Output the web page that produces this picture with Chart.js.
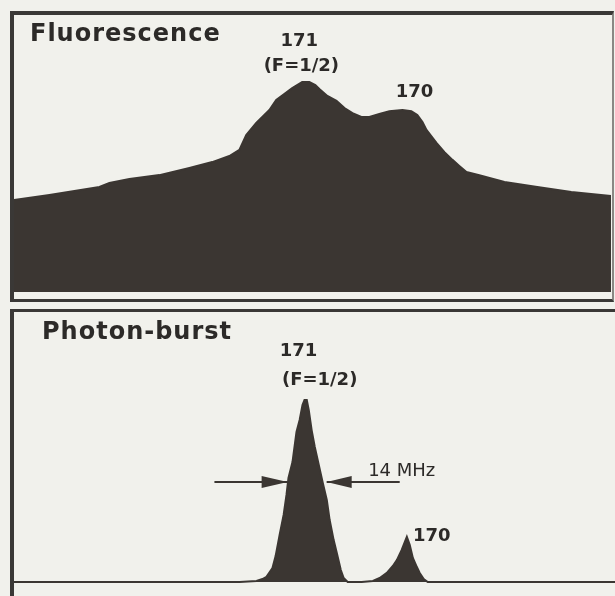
<!DOCTYPE html>
<html>
<head>
<meta charset="utf-8">
<script src="https://cdn.jsdelivr.net/npm/chart.js@4.4.1/dist/chart.umd.min.js"></script>
<style>
    html, body { margin: 0; padding: 0; background: #f1f1ec; }
    #page { position: relative; width: 615px; height: 596px; overflow: hidden; background: #f1f1ec; }
    .frame { position: absolute; box-sizing: border-box; border-color: #3a3836; border-style: solid; }
    #top-frame { left: 10px; top: 11px; width: 604px; height: 291px; border-width: 4px 2px 3px 4px; border-right-color: #8a8884; }
    #bottom-frame { left: 10px; top: 309px; width: 610px; height: 300px; border-width: 3px 0 0 4px; }
    canvas { position: absolute; }
    #fluor-chart { left: 14px; top: 15px; }
    #burst-chart { left: 14px; top: 315px; }
</style>
</head>
<body>
<div id="page">
    <div class="frame" id="top-frame"></div>
    <div class="frame" id="bottom-frame"></div>
    <canvas id="fluor-chart" width="597" height="277"></canvas>
    <canvas id="burst-chart" width="601" height="271"></canvas>
</div>
<script>
// frequency offset (MHz) from the 171 (F=1/2) line, signal in arbitrary units
const fluorFreq = [-102, -89.6, -72.1, -68.6, -61.6, -51.1, -40.6, -32.6, -26.6, -23.1, -20.7, -17.2, -12.6, -10.2,
    -7.4, -4.6, -1.1, 1.4, 3.5, 4.9, 7.7, 10.9, 13.7, 16.5, 19.6, 22.4, 25.9, 29.4, 34.0, 37.1, 39.2, 41.0, 42.4,
    45.9, 48.7, 51.5, 53.9, 56.4, 60.9, 69.7, 81.2, 93.1, 107];
const fluorSignal = [33.2, 35.0, 37.9, 39.4, 40.8, 42.2, 44.8, 46.9, 49.1, 51.3, 56.7, 61.0, 65.7, 69.3,
    71.5, 73.6, 75.8, 75.8, 74.7, 73.3, 70.8, 69.0, 66.4, 64.6, 63.2, 63.2, 64.3, 65.3, 65.7, 65.3, 63.9, 61.4, 58.5,
    53.8, 50.5, 47.7, 45.5, 43.3, 42.2, 39.7, 37.9, 36.1, 34.7];

const burstFreq = [-102, -23.1, -17.2, -15.1, -13.7, -11.6, -10.5, -9.1, -7.7, -6.7, -6.0, -4.6, -3.2, -2.1, -1.1,
    -0.4, 0.4, 1.1, 2.1, 3.2, 4.6, 6.0, 7.4, 8.4, 9.8, 10.9, 12.3, 13.3, 14.7, 19.6, 23.5, 25.9, 28.4, 30.5, 31.9,
    33.6, 34.7, 35.4, 36.4, 37.5, 38.9, 39.9, 41.3, 42.7, 108.2];
const burstSignal = [0, 0, 0.4, 1.1, 1.9, 5.2, 9.7, 17.6, 25.1, 32.6, 39.0, 44.9, 56.2, 60.7, 66.3,
    68.2, 68.2, 64.4, 56.9, 50.6, 43.8, 37.1, 30.7, 23.2, 15.7, 10.9, 4.5, 1.5, 0, 0, 0.4, 1.5, 3.4, 6.0, 8.2,
    12.0, 15.0, 16.9, 13.9, 9.0, 5.6, 3.4, 1.1, 0, 0];

// peak labels: [text, freq, signal]
const fluorLabels = [['171', -2.1, 90.6], ['(F=1/2)', -1.4, 81.6], ['170', 38.2, 72.2]];
const burstLabels = [['171', -2.5, 86.5], ['(F=1/2)', 4.9, 75.7], ['170', 44.1, 17.2]];
const widthLabel = ['14 MHz', 33.6, 41.6];
// half-width arrows: line start, arrow tip, arrow base (MHz), at one signal level
const leftArrow = [-31.9, -6.3, -15.4];
const rightArrow = [32.9, 7.35, 16.1];
const arrowLevel = 37.5;

const INK = '#3b3632';
const TEXT = '#2c2a28';

function toPoints(xs, ys) {
    return xs.map((x, i) => ({ x: x, y: ys[i] }));
}

const annotate = {
    id: 'annotate',
    afterDraw(chart) {
        const ctx = chart.ctx;
        const xs = chart.scales.x;
        const ys = chart.scales.y;
        const opts = chart.options.plugins.annotate;
        ctx.save();
        ctx.fillStyle = TEXT;
        ctx.textBaseline = 'middle';

        ctx.font = 'bold 24px "DejaVu Sans"';
        ctx.letterSpacing = '1px';
        ctx.textAlign = 'left';
        ctx.fillText(opts.title, chart.chartArea.left + opts.titleX, chart.chartArea.top + opts.titleY);

        ctx.font = 'bold 18px "DejaVu Sans"';
        ctx.letterSpacing = '0px';
        ctx.textAlign = 'center';
        opts.labels.forEach(l => {
            ctx.fillText(l[0], xs.getPixelForValue(l[1]), ys.getPixelForValue(l[2]));
        });

        if (opts.arrows) {
            const y = ys.getPixelForValue(arrowLevel);
            ctx.strokeStyle = INK;
            ctx.lineWidth = 2;
            [leftArrow, rightArrow].forEach(a => {
                const x0 = xs.getPixelForValue(a[0]);
                const tip = xs.getPixelForValue(a[1]);
                const base = xs.getPixelForValue(a[2]);
                ctx.beginPath();
                ctx.moveTo(x0, y);
                ctx.lineTo(tip, y);
                ctx.stroke();
                ctx.beginPath();
                ctx.moveTo(tip, y);
                ctx.lineTo(base, y - 6);
                ctx.lineTo(base, y + 6);
                ctx.closePath();
                ctx.fillStyle = INK;
                ctx.fill();
            });
            ctx.fillStyle = TEXT;
            ctx.font = '18px "DejaVu Sans"';
            ctx.fillText(widthLabel[0], xs.getPixelForValue(widthLabel[1]), ys.getPixelForValue(widthLabel[2]));
        }
        ctx.restore();
    }
};

function makeChart(canvasId, xs, ys, xMax, title, titleX, titleY, labels, arrows, bottomPad) {
    return new Chart(document.getElementById(canvasId), {
        type: 'line',
        data: {
            datasets: [{
                data: toPoints(xs, ys),
                fill: 'origin',
                backgroundColor: INK,
                borderColor: INK,
                borderWidth: 2,
                pointRadius: 0,
                tension: 0,
                clip: false
            }]
        },
        options: {
            responsive: false,
            animation: false,
            layout: { padding: { left: 0, right: 0, top: 0, bottom: bottomPad } },
            scales: {
                x: { type: 'linear', min: -102, max: xMax, display: false },
                y: { min: 0, max: 100, display: false }
            },
            plugins: {
                legend: { display: false },
                tooltip: { enabled: false },
                annotate: { title: title, titleX: titleX, titleY: titleY, labels: labels, arrows: arrows }
            }
        },
        plugins: [annotate]
    });
}

makeChart('fluor-chart', fluorFreq, fluorSignal, 107, 'Fluorescence', 16, 20, fluorLabels, false, 0);
makeChart('burst-chart', burstFreq, burstSignal, 108.2, 'Photon-burst', 28, 18, burstLabels, true, 4);
</script>
</body>
</html>
